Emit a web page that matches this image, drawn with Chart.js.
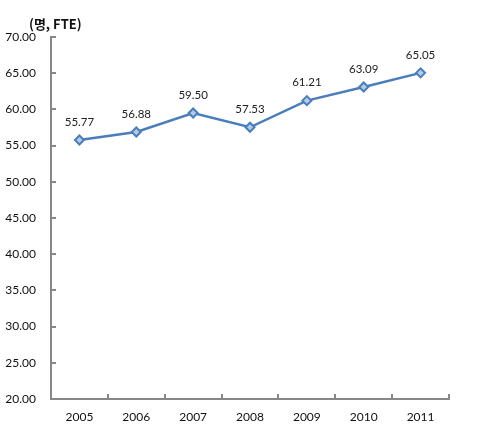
<!DOCTYPE html>
<html>
<head>
<meta charset="utf-8">
<script src="https://cdn.jsdelivr.net/npm/chart.js@4"></script>
<style>
  html, body { margin: 0; padding: 0; background: #fff; }
  #wrap { width: 498px; height: 448px; position: relative; }
  #title {
    position: absolute; left: 29px; top: 14px;
    font: bold 13px 'Noto Sans CJK KR', 'Lato', sans-serif; color: #111;
  }
</style>
</head>
<body>
<div id="wrap">
  <canvas id="c" width="498" height="448"></canvas>
  <div id="title">(명, FTE)</div>
</div>
<script>
'use strict';

// ── Data ──────────────────────────────────────────────
const years  = ['2005', '2006', '2007', '2008', '2009', '2010', '2011'];
const values = [55.77, 56.88, 59.50, 57.53, 61.21, 63.09, 65.05];
const yMin = 20, yMax = 70, yStep = 5;

const AXIS_COLOR = '#878787';
const LINE_COLOR = '#4a7ebb';
const FONT = "'Lato', 'Open Sans', sans-serif";

// inward tick marks + value labels
const decorations = {
  id: 'decorations',
  afterDatasetsDraw(chart) {
    const { ctx, chartArea: { left, right, bottom }, scales: { x, y } } = chart;
    ctx.save();
    ctx.strokeStyle = AXIS_COLOR;
    ctx.lineWidth = 2;
    ctx.beginPath();
    y.ticks.forEach(t => {
      const py = Math.round(y.getPixelForValue(t.value));
      ctx.moveTo(left, py);
      ctx.lineTo(left + 5, py);
    });
    for (let i = 0; i <= years.length; i++) {
      const px = Math.round(i === years.length ? right : x.getPixelForValue(i) - (x.getPixelForValue(1) - x.getPixelForValue(0)) / 2);
      ctx.moveTo(px, bottom);
      ctx.lineTo(px, bottom - 5);
    }
    ctx.stroke();

    const meta = chart.getDatasetMeta(0);
    ctx.fillStyle = '#222';
    ctx.font = `11.5px ${FONT}`;
    ctx.textAlign = 'center';
    ctx.textBaseline = 'middle';
    meta.data.forEach((pt, i) => {
      ctx.fillText(values[i].toFixed(2), pt.x, pt.y - 18);
    });
    ctx.restore();
  },
};

new Chart(document.getElementById('c'), {
  type: 'line',
  data: {
    labels: years,
    datasets: [{
      data: values,
      borderColor: LINE_COLOR,
      borderWidth: 2.5,
      pointStyle: 'rectRot',
      pointRadius: 4.5,
      pointBorderWidth: 2,
      pointBackgroundColor: '#b3cbe8',
      pointBorderColor: LINE_COLOR,
      tension: 0,
    }],
  },
  options: {
    responsive: false,
    animation: false,
    layout: { padding: { top: 37, right: 49, bottom: 19, left: 0 } },
    scales: {
      x: {
        offset: true,
        afterFit: s => { s.height = 30; },
        grid: { display: false, drawTicks: false },
        border: { color: AXIS_COLOR, width: 2 },
        ticks: { color: '#111', font: { size: 12, family: FONT }, padding: 11 },
      },
      y: {
        min: yMin,
        max: yMax,
        afterFit: s => { s.width = 51; },
        grid: { display: false, drawTicks: false },
        border: { color: AXIS_COLOR, width: 2 },
        ticks: {
          stepSize: yStep,
          color: '#111',
          font: { size: 12, family: FONT },
          padding: 15,
          callback: v => Number(v).toFixed(2),
        },
      },
    },
    plugins: { legend: { display: false }, tooltip: { enabled: false } },
  },
  plugins: [decorations],
});
</script>
</body>
</html>
